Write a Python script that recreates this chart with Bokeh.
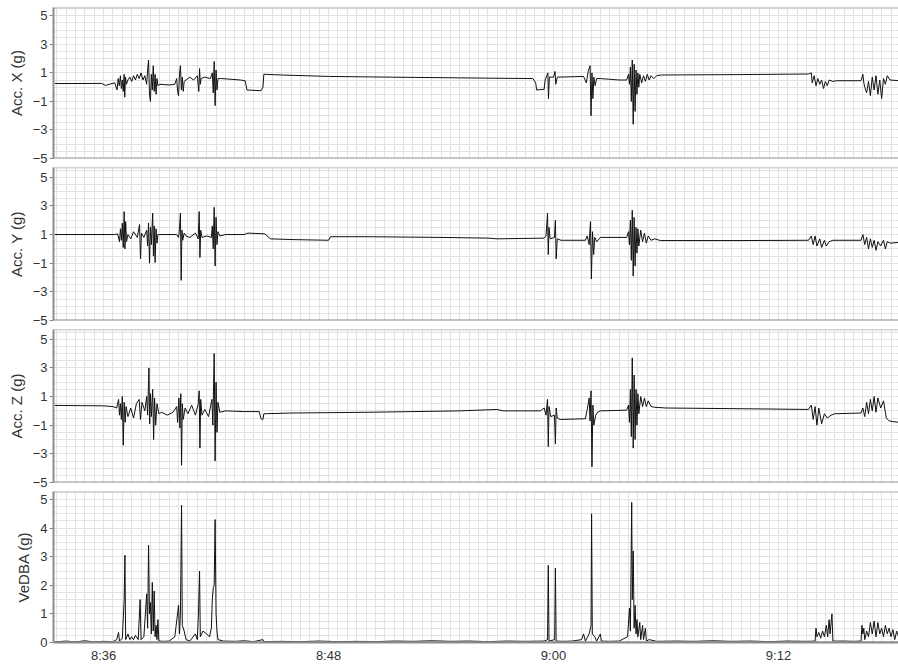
from bokeh.plotting import figure
from bokeh.layouts import column
from bokeh.models import FixedTicker, SingleIntervalTicker, Span, Range1d
from bokeh.embed import file_html
from bokeh.resources import INLINE

# time in minutes after 8:00, value in g
acc_x_pts = [
    (33.40, 0.25), (35.9, 0.26), (36.1, 0.12), (36.3, 0.2), (36.6, 0.3),
    (36.72, -0.2), (36.78, 0.6), (36.84, 0.1), (36.9, 0.8), (36.95, -0.1), (37.0, 0.5),
    (37.05, -0.3), (37.1, 0.9), (37.13, -0.7), (37.17, 0.7), (37.22, 0.2), (37.3, 0.5),
    (37.4, 0.7), (37.5, 0.4), (37.6, 0.8), (37.7, 0.5), (37.8, 0.9), (37.9, 0.6), (38.0, 1.0),
    (38.1, 0.5), (38.2, 0.8), (38.3, 0.2), (38.35, 1.2), (38.4, 1.9), (38.45, -0.5), (38.5, -1.0),
    (38.55, 0.9), (38.6, -0.2), (38.65, 1.5), (38.7, -0.3), (38.75, 0.9), (38.8, -0.5),
    (38.85, 0.6), (38.9, 0.1), (39.0, 0.2), (39.5, 0.15), (39.8, 0.2),
    (39.9, 0.6), (39.95, -0.3), (40.0, -0.6), (40.05, 0.9), (40.1, 1.5), (40.15, -0.2),
    (40.2, 0.7), (40.25, -0.3), (40.3, 0.4), (40.4, 0.5), (40.6, 0.7), (40.8, 0.5), (41.0, 0.8),
    (41.08, -0.3), (41.12, 1.3), (41.16, 0.2), (41.2, 0.6), (41.4, 0.7), (41.7, 0.6),
    (41.8, 1.0), (41.85, -0.4), (41.9, 1.8), (41.95, -1.3), (42.0, 1.2), (42.05, -0.2), (42.1, 0.6),
    (42.3, 0.6), (42.8, 0.55), (43.3, 0.5), (43.55, 0.45), (43.65, -0.2), (44.4, -0.25),
    (44.5, 0.0), (44.55, 0.9), (45.5, 0.85), (48.0, 0.75), (51.3, 0.7), (55.0, 0.65), (58.9, 0.6),
    (59.05, 0.3), (59.1, -0.2), (59.5, -0.15), (59.55, 0.5), (59.7, 1.0), (59.73, -0.8),
    (59.78, 0.7), (60.0, 0.7), (60.08, 1.1), (60.12, 0.2), (60.2, 0.7), (61.6, 0.75),
    (61.75, 0.3), (61.85, 1.1), (61.95, 1.5), (62.0, -2.0), (62.05, 1.0), (62.1, -0.8),
    (62.15, 0.7), (62.22, 0.1), (62.3, 0.6), (62.5, 0.6), (63.0, 0.55), (63.5, 0.5), (63.9, 0.5),
    (64.0, 0.9), (64.05, 0.2), (64.1, 1.4), (64.15, -1.0), (64.2, 1.9), (64.25, -2.6),
    (64.3, 1.6), (64.35, -1.7), (64.4, 1.2), (64.45, -0.5), (64.5, 1.0), (64.55, 0.0), (64.6, 0.9),
    (64.7, 0.3), (64.8, 0.8), (64.9, 0.4), (65.0, 0.9), (65.1, 0.5), (65.2, 0.8), (65.35, 0.6),
    (65.5, 0.8), (65.7, 0.85), (70.0, 0.88), (73.6, 0.92),
    (73.75, 1.0), (73.8, 0.3), (73.9, 0.8), (74.0, 0.1), (74.1, 0.6), (74.2, 0.2), (74.3, 0.5),
    (74.4, -0.1), (74.5, 0.4), (74.6, 0.1), (74.7, 0.5), (74.9, 0.4), (75.1, 0.45), (76.4, 0.45),
    (76.5, 0.9), (76.55, 0.3), (76.6, 0.0), (76.7, -0.4), (76.8, 0.4), (76.9, -0.6), (77.0, 0.7),
    (77.1, -0.2), (77.2, 0.8), (77.3, -0.5), (77.4, 0.5), (77.5, -0.8), (77.6, 0.6), (77.7, 0.2),
    (77.8, 0.8), (77.95, 0.5), (78.45, 0.45),
]

acc_y_pts = [
    (33.4, 1.0), (36.6, 1.0), (36.75, 1.05), (36.85, 0.5), (36.9, 1.4), (36.95, 0.6), (37.0, 1.8),
    (37.05, 0.1), (37.1, 2.6), (37.14, 0.0), (37.18, 1.9), (37.22, 0.5), (37.3, 1.0), (37.45, 0.7),
    (37.6, 1.2), (37.8, 0.8), (37.92, 1.7), (37.97, -0.7), (38.02, 1.1), (38.15, 0.8), (38.3, 1.3),
    (38.35, 0.2), (38.4, 1.8), (38.45, -1.0), (38.5, 1.5), (38.55, 0.3), (38.62, 2.5), (38.66, -0.5),
    (38.7, 1.6), (38.75, -0.95), (38.8, 1.4), (38.85, 0.4), (38.9, 1.0), (39.0, 1.0), (39.9, 1.0),
    (40.0, 0.8), (40.05, 1.4), (40.1, 2.5), (40.14, -2.2), (40.18, 1.3), (40.22, 0.6), (40.3, 1.1),
    (40.4, 0.9), (40.6, 0.8), (40.9, 1.1), (41.05, 0.7), (41.1, 2.6), (41.14, -0.6), (41.18, 1.3),
    (41.25, 0.8), (41.5, 0.9), (41.75, 0.8), (41.8, 1.6), (41.85, 0.0), (41.9, 2.9), (41.95, -1.2),
    (42.0, 2.2), (42.05, 0.3), (42.1, 1.2), (42.2, 0.9), (42.5, 1.0), (43.5, 1.0), (43.7, 1.1),
    (44.6, 1.05), (44.9, 0.7), (46.0, 0.65), (48.0, 0.6), (48.1, 0.85), (50.0, 0.85), (54.0, 0.8),
    (56.5, 0.75), (57.0, 0.7), (59.5, 0.75), (59.6, 0.9), (59.68, 2.5), (59.72, -0.4), (59.76, 1.5),
    (59.82, 0.7), (60.05, 0.8), (60.1, 2.0), (60.14, -0.7), (60.2, 0.7), (60.4, 0.6), (61.7, 0.6),
    (61.8, 0.9), (61.9, 0.3), (61.97, 1.9), (62.02, -2.1), (62.08, 1.2), (62.14, -0.4), (62.2, 0.8),
    (62.3, 0.5), (62.5, 0.8), (63.9, 0.8), (64.0, 1.2), (64.05, 0.3), (64.1, 2.0), (64.15, -0.8),
    (64.2, 2.7), (64.25, -1.9), (64.3, 2.2), (64.35, -1.2), (64.4, 1.5), (64.45, -0.3), (64.5, 1.4),
    (64.55, 0.2), (64.65, 1.3), (64.75, 0.5), (64.85, 1.1), (64.95, 0.4), (65.05, 0.9), (65.2, 0.6),
    (65.4, 0.7), (65.7, 0.58), (70.0, 0.58), (73.6, 0.6), (73.75, 0.9), (73.85, 0.3), (73.95, 0.9),
    (74.05, 0.2), (74.2, 0.7), (74.3, 0.1), (74.45, 0.6), (74.55, 0.2), (74.7, 0.5), (74.9, 0.6),
    (76.4, 0.6), (76.5, 1.0), (76.6, 0.3), (76.7, 0.8), (76.8, 0.0), (76.9, 0.7), (77.0, 0.1),
    (77.1, 0.6), (77.2, -0.1), (77.3, 0.5), (77.45, 0.2), (77.6, 0.6), (77.7, 0.0), (77.8, 0.5),
    (77.95, 0.4), (78.45, 0.45),
]

acc_z_pts = [
    (33.4, 0.38), (36.0, 0.35), (36.5, 0.3), (36.7, 0.2), (36.8, 0.8), (36.85, -0.3), (36.9, 0.5),
    (36.95, -0.6), (37.0, 1.0), (37.05, -2.4), (37.1, 0.6), (37.15, -0.8), (37.2, 0.3), (37.3, -0.4),
    (37.45, 0.2), (37.6, -0.5), (37.75, 0.5), (37.9, 0.8), (37.97, -0.6), (38.05, 0.6), (38.2, 0.0),
    (38.3, 1.0), (38.35, -0.3), (38.42, 3.0), (38.46, -0.9), (38.5, 1.2), (38.55, -0.4), (38.62, 1.5),
    (38.67, -2.0), (38.72, 0.9), (38.78, -1.0), (38.85, 0.5), (38.95, -0.2), (39.1, -0.1),
    (39.4, -0.3), (39.7, -0.1), (39.9, 0.3), (39.95, -0.8), (40.02, 0.9), (40.07, -1.2), (40.12, 1.2),
    (40.16, -3.8), (40.2, 0.5), (40.25, -0.6), (40.35, 0.2), (40.5, -0.2), (40.7, 0.4), (40.9, -0.3),
    (41.05, 0.5), (41.1, 1.4), (41.14, -2.6), (41.18, 0.8), (41.25, -0.3), (41.4, 0.1), (41.6, -0.4),
    (41.78, 0.8), (41.83, -1.0), (41.9, 4.0), (41.95, -3.5), (42.0, 2.0), (42.05, -1.5), (42.1, 0.6),
    (42.2, -0.1), (42.5, 0.0), (43.5, -0.05), (44.3, -0.05), (44.4, -0.55), (44.5, -0.6),
    (44.55, -0.2), (46.0, -0.15), (50.0, -0.1), (55.0, 0.0), (57.0, 0.1), (57.3, 0.0), (59.3, 0.0),
    (59.5, 0.2), (59.6, -0.3), (59.68, 0.8), (59.72, -2.5), (59.76, 0.3), (59.85, -0.4),
    (60.05, -0.3), (60.1, -2.3), (60.14, 0.2), (60.2, -0.5), (60.35, -0.6), (61.7, -0.55),
    (61.8, 0.1), (61.9, 0.9), (61.95, -0.7), (62.0, 1.4), (62.05, -3.9), (62.1, 0.4), (62.15, -1.0),
    (62.25, -0.3), (62.35, -0.1), (62.5, 0.0), (63.9, 0.05), (64.0, 0.4), (64.05, -0.8), (64.1, 1.5),
    (64.15, -1.8), (64.2, 3.7), (64.25, -2.6), (64.3, 2.5), (64.35, -2.0), (64.4, 1.5), (64.45, -1.0),
    (64.5, 1.2), (64.55, -0.2), (64.65, 1.0), (64.75, 0.3), (64.85, 0.9), (64.95, 0.3), (65.05, 0.7),
    (65.2, 0.3), (65.4, 0.25), (66.0, 0.2), (70.0, 0.15), (73.6, 0.1), (73.75, 0.4), (73.85, -0.6),
    (73.95, 0.3), (74.05, -1.0), (74.15, 0.2), (74.3, -0.9), (74.45, -0.2), (74.6, -0.5),
    (74.8, -0.3), (75.0, -0.2), (76.4, -0.15), (76.5, 0.2), (76.6, -0.4), (76.7, 0.6), (76.8, -0.2),
    (76.9, 0.8), (77.0, 0.0), (77.1, 1.0), (77.2, -0.1), (77.3, 0.9), (77.45, 0.2), (77.6, 0.7),
    (77.75, -0.5), (77.9, -0.7), (78.1, -0.75), (78.45, -0.8),
]

vedba_pts = [
    (33.4, 0.02), (34.0, 0.05), (34.5, 0.02), (35.0, 0.06), (35.5, 0.02), (36.0, 0.04), (36.5, 0.03),
    (36.7, 0.1), (36.8, 0.35), (36.85, 0.05), (37.0, 0.15), (37.1, 1.5), (37.14, 3.05), (37.18, 0.1),
    (37.3, 0.3), (37.4, 0.1), (37.5, 0.2), (37.6, 0.1), (37.7, 0.25), (37.85, 0.1), (37.95, 1.5),
    (38.0, 0.1), (38.15, 0.2), (38.3, 1.7), (38.35, 0.5), (38.4, 3.4), (38.45, 1.0), (38.5, 1.4),
    (38.55, 0.3), (38.6, 2.1), (38.65, 0.4), (38.7, 1.8), (38.75, 0.2), (38.8, 0.6), (38.85, 0.1),
    (38.9, 0.8), (38.95, 0.05), (39.2, 0.04), (39.5, 0.05), (39.8, 0.2), (40.0, 1.3), (40.05, 0.3),
    (40.1, 1.0), (40.16, 4.8), (40.2, 0.6), (40.3, 0.4), (40.4, 0.1), (40.6, 0.05), (40.9, 0.3),
    (41.0, 0.1), (41.06, 1.0), (41.12, 2.5), (41.16, 0.2), (41.3, 0.4), (41.5, 0.3), (41.65, 0.2),
    (41.75, 0.5), (41.8, 1.5), (41.85, 1.9), (41.9, 2.0), (41.95, 4.3), (42.0, 1.0), (42.05, 0.4),
    (42.1, 0.1), (42.4, 0.05), (43.0, 0.04), (43.5, 0.06), (44.0, 0.03), (44.5, 0.1), (44.55, 0.03),
    (45.5, 0.04), (46.5, 0.03), (47.5, 0.05), (48.5, 0.03), (49.5, 0.04), (50.5, 0.03), (51.5, 0.05),
    (52.5, 0.04), (53.5, 0.06), (54.5, 0.04), (55.5, 0.05), (56.5, 0.03), (57.5, 0.05), (58.5, 0.04),
    (59.5, 0.05), (59.68, 0.1), (59.72, 2.7), (59.76, 0.05), (60.06, 0.1), (60.1, 2.6), (60.14, 0.05),
    (60.5, 0.04), (61.0, 0.05), (61.5, 0.1), (61.6, 0.3), (61.7, 0.05), (61.9, 0.3), (62.0, 0.6),
    (62.03, 4.5), (62.07, 0.3), (62.2, 0.2), (62.3, 0.05), (62.5, 0.3), (62.55, 0.05), (63.0, 0.04),
    (63.5, 0.05), (63.95, 0.2), (64.05, 1.2), (64.1, 0.4), (64.17, 4.9), (64.2, 1.5), (64.25, 3.2),
    (64.3, 0.5), (64.35, 1.3), (64.4, 0.3), (64.45, 0.8), (64.5, 0.2), (64.6, 0.7), (64.65, 0.1),
    (64.75, 0.6), (64.8, 0.1), (64.9, 0.5), (64.95, 0.05), (65.1, 0.1), (65.5, 0.04), (66.5, 0.05),
    (67.5, 0.04), (68.5, 0.06), (69.5, 0.04), (70.5, 0.05), (71.5, 0.03), (72.5, 0.05), (73.5, 0.04),
    (73.95, 0.05), (74.0, 0.5), (74.05, 0.2), (74.15, 0.35), (74.25, 0.15), (74.35, 0.4),
    (74.45, 0.2), (74.55, 0.6), (74.62, 0.2), (74.7, 0.8), (74.75, 0.3), (74.85, 1.0), (74.9, 0.05),
    (75.5, 0.05), (76.0, 0.04), (76.4, 0.05), (76.45, 0.6), (76.5, 0.3), (76.55, 0.5), (76.6, 0.1),
    (76.7, 0.4), (76.8, 0.2), (76.9, 0.7), (77.0, 0.3), (77.1, 0.75), (77.2, 0.2), (77.3, 0.7),
    (77.4, 0.3), (77.5, 0.5), (77.6, 0.2), (77.7, 0.6), (77.8, 0.3), (77.9, 0.5), (78.0, 0.2),
    (78.1, 0.45), (78.2, 0.1), (78.3, 0.4), (78.45, 0.1),
]

acc_ticks = [-5, -3, -1, 1, 3, 5]
vedba_ticks = [0, 1, 2, 3, 4, 5]
time_ticks = [36, 48, 60, 72]
time_labels = ["8:36", "8:48", "9:00", "9:12"]
panel_labels = ["Acc. X (g)", "Acc. Y (g)", "Acc. Z (g)", "VeDBA (g)"]

FONT = "Liberation Sans"
x_range = Range1d(33.33, 78.4)


def make_panel(pts, label, yr, yticks, grid_step, height, top, bottom, show_x):
    p = figure(width=898, height=height, x_range=x_range, y_range=yr,
               output_backend="svg", toolbar_location=None,
               min_border_left=53, min_border_right=0,
               min_border_top=top, min_border_bottom=bottom,
               x_axis_location="below" if show_x else None)
    p.outline_line_color = None
    p.background_fill_color = "white"
    p.border_fill_color = "white"
    t, v = zip(*pts)
    p.line(list(t), list(v), line_color="#111111", line_width=1)

    p.yaxis.ticker = FixedTicker(ticks=yticks)
    p.yaxis.axis_label = label
    p.yaxis.axis_label_text_font = FONT
    p.yaxis.axis_label_text_font_size = "15px"
    p.yaxis.axis_label_text_font_style = "normal"
    p.yaxis.axis_label_text_color = "#333333"
    p.yaxis.axis_label_standoff = 5
    p.yaxis.major_label_text_font = FONT
    p.yaxis.major_label_text_font_size = "13px"
    p.yaxis.major_label_text_color = "#333333"
    p.yaxis.major_label_standoff = 2
    p.yaxis.axis_line_color = "#8c8c8c"
    p.yaxis.axis_line_width = 2
    p.yaxis.major_tick_line_color = "#8c8c8c"
    p.yaxis.major_tick_out = 4
    p.yaxis.major_tick_in = 0
    p.yaxis.minor_tick_line_color = None

    p.xgrid.ticker = SingleIntervalTicker(interval=0.5)
    p.ygrid.ticker = SingleIntervalTicker(interval=grid_step)
    p.xgrid.grid_line_color = "#e2e2e2"
    p.ygrid.grid_line_color = "#e2e2e2"
    p.xgrid.grid_line_width = 1
    p.ygrid.grid_line_width = 1

    p.add_layout(Span(location=yr.end, dimension="width", line_color="#a8a8a8", line_width=1.5))
    p.add_layout(Span(location=yr.start, dimension="width", line_color="#8c8c8c", line_width=2))

    if show_x:
        p.xaxis.ticker = FixedTicker(ticks=time_ticks)
        p.xaxis.major_label_overrides = {tk: lb for tk, lb in zip(time_ticks, time_labels)}
        p.xaxis.major_label_text_font = FONT
        p.xaxis.major_label_text_font_size = "13px"
        p.xaxis.major_label_text_color = "#333333"
        p.xaxis.major_label_standoff = 5
        p.xaxis.axis_line_color = "#8c8c8c"
        p.xaxis.axis_line_width = 2
        p.xaxis.major_tick_out = 0
        p.xaxis.major_tick_in = 0
        p.xaxis.minor_tick_line_color = None
    return p


p1 = make_panel(acc_x_pts, panel_labels[0], Range1d(-5, 5.58), acc_ticks, 0.5, 167, 7, 9, False)
p2 = make_panel(acc_y_pts, panel_labels[1], Range1d(-5, 5.68), acc_ticks, 0.5, 162, 0, 9, False)
p3 = make_panel(acc_z_pts, panel_labels[2], Range1d(-5, 5.68), acc_ticks, 0.5, 162, 0, 9, False)
p4 = make_panel(vedba_pts, panel_labels[3], Range1d(0, 5.28), vedba_ticks, 0.25, 175, 0, 24, True)

layout = column(p1, p2, p3, p4, spacing=0)
open("out.html", "w").write(file_html(layout, INLINE))
